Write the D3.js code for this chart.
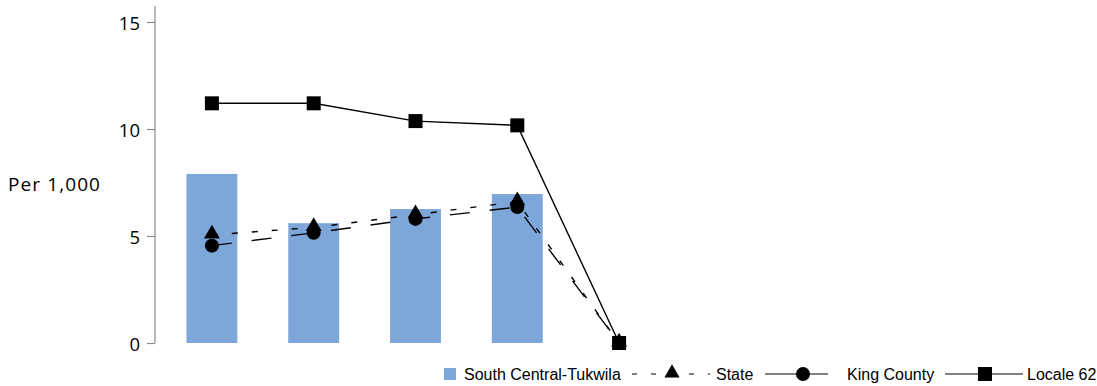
<!DOCTYPE html>
<html>
<head>
<meta charset="utf-8">
<script src="https://cdnjs.cloudflare.com/ajax/libs/d3/7.8.5/d3.min.js"></script>
<style>
	body { margin: 0; background: #fff; }
	svg { display: block; }
</style>
</head>
<body>
<div id="chart"></div>
<script>
// chart values
var categories = ["1", "2", "3", "4", "5"];
var tukwila = [7.9, 5.6, 6.26, 6.96, 0];
var state = [5.05, 5.4, 6.0, 6.6, 0];
var kingCounty = [4.55, 5.15, 5.8, 6.35, 0];
var locale62 = [11.2, 11.2, 10.37, 10.17, 0];
var yTicks = [0, 5, 10, 15];

/*
 *  Combo chart: bars for the locale, lines for comparisons
 */
function ComboChart(parentElement){
	var vis = this;
	vis.parentElement = parentElement;
	vis.init();
}

ComboChart.prototype.init = function() {
	var vis = this;
	vis.width = 1097;
	vis.height = 386;

	vis.svg = d3.select(vis.parentElement).append("svg")
		.attr("width", vis.width)
		.attr("height", vis.height);

	vis.x = d3.scaleBand()
		.domain(categories)
		.range([161, 670])
		.paddingInner(0.5)
		.paddingOuter(0.25);

	vis.y = d3.scaleLinear()
		.domain([0, 15])
		.range([343, 22]);

	vis.updateVis();
};

ComboChart.prototype.updateVis = function() {
	var vis = this;
	var x = vis.x, y = vis.y;
	var cx = function(d, i) { return x(categories[i]) + x.bandwidth() / 2; };

	// y axis
	var yAxis = d3.axisLeft(y).tickValues(yTicks).tickSize(8).tickPadding(7);
	var g = vis.svg.append("g")
		.attr("transform", "translate(155,0)")
		.call(yAxis);
	g.select(".domain").remove();
	g.append("line")
		.attr("y1", y(15.75)).attr("y2", y(0))
		.attr("stroke", "#8c8c8c").attr("stroke-width", 1.2);
	g.selectAll(".tick line").attr("stroke", "#8c8c8c").attr("stroke-width", 1.2);
	g.selectAll(".tick text")
		.attr("fill", "#000")
		.attr("dy", "0.4em")
		.style("font-family", "'Open Sans', sans-serif")
		.style("font-size", "18.5px");

	vis.svg.append("text")
		.attr("x", 8).attr("y", 191)
		.style("font-family", "'Open Sans', sans-serif")
		.style("font-size", "19px")
		.style("letter-spacing", "1.1px")
		.text("Per 1,000");

	// bars
	vis.svg.selectAll("rect.bar").data(tukwila).enter()
		.append("rect")
		.attr("class", "bar")
		.attr("x", function(d, i) { return x(categories[i]); })
		.attr("width", x.bandwidth())
		.attr("y", function(d) { return y(d); })
		.attr("height", function(d) { return y(0) - y(d); })
		.attr("fill", "#7ea7d9");

	var line = d3.line().x(cx).y(function(d) { return y(d); });

	// lines
	vis.svg.append("path").datum(locale62)
		.attr("d", line).attr("fill", "none")
		.attr("stroke", "#000").attr("stroke-width", 1.4);
	vis.svg.append("path").datum(kingCounty)
		.attr("d", line).attr("fill", "none")
		.attr("stroke", "#000").attr("stroke-width", 1.4)
		.attr("stroke-dasharray", "20,20");
	vis.svg.append("path").datum(state)
		.attr("d", line).attr("fill", "none")
		.attr("stroke", "#000").attr("stroke-width", 1.4)
		.attr("stroke-dasharray", "6,14");

	// markers
	var tri = d3.symbol().type(d3.symbolTriangle).size(110);
	vis.svg.selectAll("path.tri").data(state).enter()
		.append("path").attr("class", "tri")
		.attr("d", tri)
		.attr("transform", function(d, i) { return "translate(" + cx(d, i) + "," + (y(d) - 1) + ")"; })
		.attr("fill", "#000");
	vis.svg.selectAll("circle.kc").data(kingCounty).enter()
		.append("circle").attr("class", "kc")
		.attr("cx", cx).attr("cy", function(d) { return y(d); })
		.attr("r", 7).attr("fill", "#000");
	vis.svg.selectAll("rect.sq").data(locale62).enter()
		.append("rect").attr("class", "sq")
		.attr("x", function(d, i) { return cx(d, i) - 7; })
		.attr("y", function(d) { return y(d) - 7; })
		.attr("width", 14).attr("height", 14)
		.attr("fill", "#000");

	vis.drawLegend();
};

ComboChart.prototype.drawLegend = function() {
	var vis = this;
	var lg = vis.svg.append("g")
		.style("font-family", "'Liberation Sans', Arial, sans-serif")
		.style("font-size", "16px");
	var ly = 374;

	lg.append("rect").attr("x", 444).attr("y", ly - 6).attr("width", 12).attr("height", 12).attr("fill", "#7ea7d9");
	lg.append("text").attr("x", 464).attr("y", ly + 6).text("South Central-Tukwila");

	// State
	lg.append("line").attr("x1", 632).attr("x2", 710).attr("y1", ly).attr("y2", ly)
		.attr("stroke", "#000").attr("stroke-width", 1.2).attr("stroke-dasharray", "5,14");
	lg.append("path").attr("d", d3.symbol().type(d3.symbolTriangle).size(100))
		.attr("transform", "translate(672," + (ly - 1) + ")");
	lg.append("text").attr("x", 716).attr("y", ly + 6).text("State");

	// King County
	lg.append("line").attr("x1", 765).attr("x2", 828).attr("y1", ly).attr("y2", ly)
		.attr("stroke", "#000").attr("stroke-width", 1.2);
	lg.append("circle").attr("cx", 803).attr("cy", ly).attr("r", 7);
	lg.append("text").attr("x", 847).attr("y", ly + 6).text("King County");

	// Locale 62
	lg.append("line").attr("x1", 945).attr("x2", 1023).attr("y1", ly).attr("y2", ly)
		.attr("stroke", "#000").attr("stroke-width", 1.2);
	lg.append("rect").attr("x", 978).attr("y", ly - 7).attr("width", 14).attr("height", 14);
	lg.append("text").attr("x", 1027).attr("y", ly + 6).text("Locale 62");
};

new ComboChart("#chart");
</script>
</body>
</html>
